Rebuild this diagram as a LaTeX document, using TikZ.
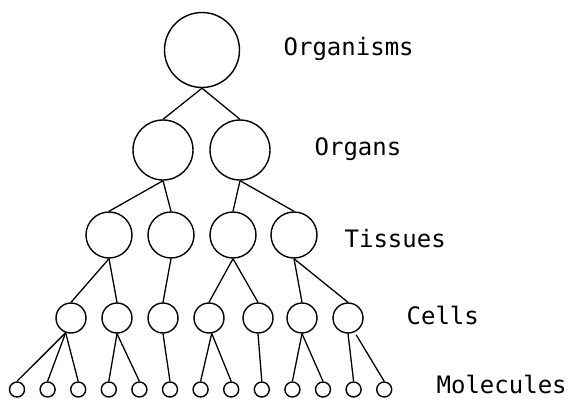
\documentclass[tikz,border=0pt]{standalone}
\usepackage{fontspec}
\setmonofont{DejaVu Sans Mono}
\begin{document}
\begin{tikzpicture}[x=1pt,y=-1pt,
  every path/.style={line width=1.3pt},
  circ/.style={draw,circle,inner sep=0pt,line width=1.4pt,minimum size=#1},
  lbl/.style={anchor=base west,inner sep=0pt,font=\ttfamily\fontsize{24}{24}\selectfont},
  link/.style={line width=1.3pt}]
\useasboundingbox (0,0) rectangle (571,399);
% level 1
\node[circ=75pt] (g) at (202,50) {};
% level 2
\node[circ=60pt] (o1) at (163,150) {};
\node[circ=60pt] (o2) at (240,150) {};
% level 3
\node[circ=46pt] (t1) at (109,235) {};
\node[circ=46pt] (t2) at (171,235) {};
\node[circ=46pt] (t3) at (233,235) {};
\node[circ=46pt] (t4) at (294,235) {};
% level 4
\node[circ=30pt] (c1) at (71,318) {};
\node[circ=30pt] (c2) at (117,318) {};
\node[circ=30pt] (c3) at (163,318) {};
\node[circ=30pt] (c4) at (209,318) {};
\node[circ=30pt] (c5) at (258,318) {};
\node[circ=30pt] (c6) at (302,318) {};
\node[circ=30pt] (c7) at (348,318) {};
% level 5
\foreach \i in {1,...,13} {
  \node[circ=15pt] (m\i) at ({17+30.6*(\i-1)},389.5) {};
}
% connectors
\draw[link] (g.south) -- (o1.north);
\draw[link] (g.south) -- (o2.north);
\draw[link] (o1.south) -- (t1.north);
\draw[link] (o1.south) -- (t2.north);
\draw[link] (o2.south) -- (t3.north);
\draw[link] (o2.south) -- (t4.north);
\draw[link] (t1.south) -- (c1.north);
\draw[link] (t1.south) -- (c2.north);
\draw[link] (t2.south) -- (c3.north);
\draw[link] (t3.south) -- (c4.north);
\draw[link] (t3.south) -- (c5.north);
\draw[link] (t4.south) -- (c6.north);
\draw[link] (t4.south) -- (c7.north);
\draw[link] (c1.-110) -- (m1.north);
\draw[link] (c1.-110) -- (m2.north);
\draw[link] (c1.-110) -- (m3.north);
\draw[link] (c2.south) -- (m4.north);
\draw[link] (c2.south) -- (m5.north);
\draw[link] (c3.south) -- (m6.north);
\draw[link] (c4.-80) -- (m7.north);
\draw[link] (c4.-80) -- (m8.north);
\draw[link] (c5.south) -- (m9.north);
\draw[link] (c6.south) -- (m10.north);
\draw[link] (c6.south) -- (m11.north);
\draw[link] (c7.south) -- (m12.north);
\draw[link,shorten <=3pt] (c7.-65) -- (m13.north);
% labels
\node[lbl] (lorg) at (283,55) {Organisms};
\node[lbl] (lorgan) at (314,155) {Organs};
\node[lbl] (ltis) at (344,247) {Tissues};
\node[lbl] (lcel) at (406,324) {Cells};
\node[lbl] (lmol) at (436,393) {Molecules};
\end{tikzpicture}
\end{document}
